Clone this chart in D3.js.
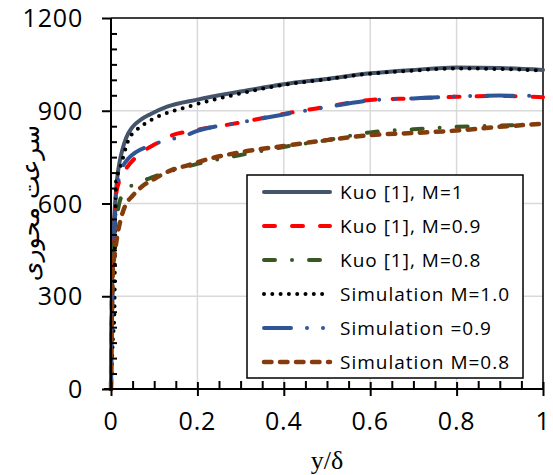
<!DOCTYPE html>
<html lang="en">
<head>
  <meta charset="UTF-8">
  <title>Velocity profile</title>
  <script src="https://d3js.org/d3.v7.min.js"></script>
  <style>
    body { margin: 0; background: #fff; }
    svg { display: block; }
    .tick-label { font-family: "Open Sans", sans-serif; font-size: 25px; letter-spacing: 0.8px; fill: #000; }
    .legend-text { font-family: "Open Sans", sans-serif; font-size: 19px; letter-spacing: 1px; fill: #000; }
  </style>
</head>
<body>
  <svg width="553" height="475"></svg>

  <script>
    // x = y/delta, v = axial velocity
    const kuo10X = [0, 0.001, 0.003, 0.006, 0.01, 0.015, 0.02, 0.026, 0.035, 0.05, 0.07, 0.09, 0.13, 0.2, 0.3, 0.4, 0.5, 0.6, 0.7, 0.8, 0.9, 1.0];
    const kuo10V = [0, 200, 400, 520, 610, 690, 735, 772, 812, 848, 872, 888, 913, 936, 962, 986, 1003, 1021, 1032, 1040, 1038, 1032];

    const kuo09X = [0, 0.002, 0.005, 0.008, 0.012, 0.02, 0.036, 0.059, 0.098, 0.121, 0.144, 0.175, 0.206, 0.3, 0.4, 0.5, 0.6, 0.7, 0.8, 0.9, 1.0];
    const kuo09V = [0, 300, 430, 530, 630, 676, 715, 751, 789, 805, 822, 832, 840, 862, 890, 913, 935, 940, 945, 948, 944];

    const kuo08X = [0, 0.002, 0.005, 0.01, 0.015, 0.02, 0.036, 0.06, 0.1, 0.2, 0.3, 0.4, 0.5, 0.6, 0.7, 0.8, 0.9, 0.96];
    const kuo08V = [0, 250, 420, 520, 570, 606, 645, 665, 687, 728, 757, 783, 805, 830, 840, 848, 852, 855];

    const sim10X = [0, 0.004, 0.008, 0.009, 0.01, 0.0116, 0.021, 0.0285, 0.035, 0.042, 0.058, 0.075, 0.0965, 0.12, 0.141, 0.164, 0.2, 0.3, 0.4, 0.5, 0.6, 0.7, 0.8, 0.9, 1.0];
    const sim10V = [0, 150, 250, 412, 540, 670, 714, 751, 784, 810, 836, 855, 873, 888, 898, 907, 922, 956, 984, 1002, 1020, 1030, 1037, 1035, 1030];

    const sim09X = [0, 0.002, 0.004, 0.008, 0.011, 0.021, 0.04, 0.094, 0.129, 0.165, 0.2, 0.3, 0.4, 0.5, 0.6, 0.7, 0.8, 0.9, 1.0];
    const sim09V = [0, 200, 350, 500, 620, 692, 745, 789, 805, 816, 835, 862, 888, 912, 933, 940, 946, 949, 948];

    const sim08X = [0, 0.002, 0.003, 0.005, 0.009, 0.013, 0.021, 0.032, 0.05, 0.071, 0.102, 0.14, 0.179, 0.218, 0.3, 0.4, 0.5, 0.6, 0.7, 0.8, 0.9, 1.0];
    const sim08V = [0, 245, 331, 396, 440, 482, 540, 590, 625, 654, 681, 708, 724, 741, 766, 786, 805, 821, 828, 836, 848, 858];

    const yTicks = [0, 300, 600, 900, 1200];
    const xTicks = [0, 0.2, 0.4, 0.6, 0.8, 1];
    const xTickLabels = ["0", "0.2", "0.4", "0.6", "0.8", "1"];

    const seriesNames = ["Kuo [1], M=1", "Kuo [1], M=0.9", "Kuo [1], M=0.8", "Simulation M=1.0", "Simulation =0.9", "Simulation M=0.8"];

    const series = [
      { name: seriesNames[0], xs: kuo10X, vs: kuo10V, color: "#44546A", width: 4, dash: null },
      { name: seriesNames[1], xs: kuo09X, vs: kuo09V, color: "#FF0000", width: 4, dash: "11,17" },
      { name: seriesNames[2], xs: kuo08X, vs: kuo08V, color: "#385723", width: 4, dash: "11,17,0,17" },
      { name: seriesNames[3], xs: sim10X, vs: sim10V, color: "#000000", width: 4, dash: "0,8.3" },
      { name: seriesNames[4], xs: sim09X, vs: sim09V, color: "#2F5597", width: 4, dash: "27,16,0,16,0,16" },
      { name: seriesNames[5], xs: sim08X, vs: sim08V, color: "#843C0C", width: 4.5, dash: "7.5,8.5" }
    ];

    const svg = d3.select("svg");

    const x = d3.scaleLinear().domain([0, 1]).range([111, 543]);
    const y = d3.scaleLinear().domain([0, 1200]).range([389, 18]);

    // gridlines
    svg.append("g")
      .selectAll("line")
      .data(yTicks.slice(1, -1))
      .join("line")
      .attr("x1", x(0)).attr("x2", x(1))
      .attr("y1", d => y(d)).attr("y2", d => y(d))
      .attr("stroke", "#D9D9D9").attr("stroke-width", 1.5);

    svg.append("g")
      .selectAll("line")
      .data(xTicks.slice(1, -1))
      .join("line")
      .attr("x1", d => x(d)).attr("x2", d => x(d))
      .attr("y1", y(0)).attr("y2", y(1200))
      .attr("stroke", "#D9D9D9").attr("stroke-width", 1.5);

    // frame (top and right)
    svg.append("path")
      .attr("d", `M${x(0)},${y(1200)}H${x(1)}V${y(0)}`)
      .attr("fill", "none").attr("stroke", "#000").attr("stroke-width", 1.5);

    // curves
    const line = d3.line()
      .curve(d3.curveMonotoneX)
      .x(d => x(d[0]))
      .y(d => y(d[1]));

    series.forEach(s => {
      const pts = s.xs.map((v, i) => [v, s.vs[i]]);
      svg.append("path")
        .datum(pts)
        .attr("fill", "none")
        .attr("stroke", s.color)
        .attr("stroke-width", s.width)
        .attr("stroke-linecap", "round")
        .attr("stroke-linejoin", "round")
        .attr("stroke-dasharray", s.dash)
        .attr("d", line);
    });

    // y axis
    const yAxis = svg.append("g").attr("transform", `translate(${x(0)},0)`);
    yAxis.call(d3.axisLeft(y).tickValues(yTicks).tickSize(9).tickFormat(""))
      .call(g => g.select(".domain").remove())
      .call(g => g.selectAll(".tick line").attr("stroke", "#000").attr("stroke-width", 2));
    yAxis.append("g")
      .call(d3.axisRight(y).tickValues(d3.range(0, 1201, 50).filter(v => v % 300 !== 0)).tickSize(6).tickFormat(""))
      .call(g => g.select(".domain").remove())
      .call(g => g.selectAll(".tick line").attr("stroke", "#000").attr("stroke-width", 2));
    yAxis.append("line")
      .attr("y1", y(0)).attr("y2", y(1200))
      .attr("stroke", "#000").attr("stroke-width", 2);

    svg.append("g")
      .selectAll("text")
      .data(yTicks)
      .join("text")
      .attr("class", "tick-label")
      .attr("x", 83)
      .attr("y", d => y(d))
      .attr("dy", "0.36em")
      .attr("text-anchor", "end")
      .text(d => d);

    // x axis
    const xAxis = svg.append("g").attr("transform", `translate(0,${y(0)})`);
    xAxis.call(d3.axisBottom(x).tickValues(xTicks).tickSize(7).tickFormat(""))
      .call(g => g.select(".domain").remove())
      .call(g => g.selectAll(".tick line").attr("y1", -7).attr("stroke", "#000").attr("stroke-width", 2));
    xAxis.append("g")
      .call(d3.axisTop(x).tickValues(d3.range(1, 20).map(i => i * 0.05).filter((v, i) => (i + 1) % 4 !== 0)).tickSize(8).tickFormat(""))
      .call(g => g.select(".domain").remove())
      .call(g => g.selectAll(".tick line").attr("stroke", "#000").attr("stroke-width", 2));
    xAxis.append("line")
      .attr("x1", x(0) - 7).attr("x2", x(1))
      .attr("stroke", "#000").attr("stroke-width", 2);

    svg.append("g")
      .selectAll("text")
      .data(xTicks)
      .join("text")
      .attr("class", "tick-label")
      .attr("x", d => x(d))
      .attr("y", 421)
      .attr("dy", "0.36em")
      .attr("text-anchor", "middle")
      .text((d, i) => xTickLabels[i]);

    // axis titles
    svg.append("text")
      .attr("x", 327)
      .attr("y", 469)
      .attr("text-anchor", "middle")
      .style("font-family", "'Liberation Serif', 'Times New Roman', serif")
      .style("font-size", "26px")
      .text("y/δ");

    svg.append("text")
      .attr("transform", "translate(39,203) rotate(-90)")
      .attr("text-anchor", "middle")
      .style("font-family", "'DejaVu Sans', sans-serif")
      .style("font-size", "25px")
      .text("سرعت محوری");

    // legend
    const legend = svg.append("g");
    legend.append("rect")
      .attr("x", 247).attr("y", 175)
      .attr("width", 276).attr("height", 203)
      .attr("fill", "#fff").attr("stroke", "#000").attr("stroke-width", 1.5);

    const rowY = d3.scaleLinear().domain([0, 5]).range([192, 362]);
    series.forEach((s, i) => {
      legend.append("line")
        .attr("x1", 264).attr("x2", 330)
        .attr("y1", rowY(i)).attr("y2", rowY(i))
        .attr("stroke", s.color)
        .attr("stroke-width", s.width)
        .attr("stroke-linecap", "round")
        .attr("stroke-dasharray", s.dash);
      legend.append("text")
        .attr("class", "legend-text")
        .attr("x", 340)
        .attr("y", rowY(i))
        .attr("dy", "0.36em")
        .text(s.name);
    });
  </script>
</body>
</html>
